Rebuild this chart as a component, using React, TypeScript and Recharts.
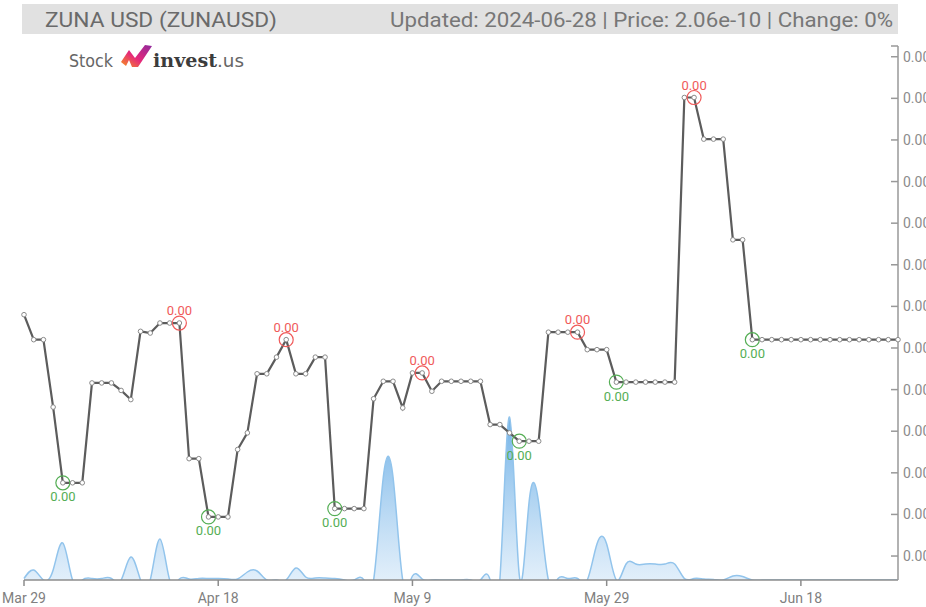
import React from 'react';
import { ComposedChart, Line, Area, XAxis, YAxis } from 'recharts';

// one point per trading day (May 1 missing in the source feed)
const dates = [
  '03-29', '03-30', '03-31',
  '04-01', '04-02', '04-03', '04-04', '04-05', '04-06', '04-07', '04-08', '04-09', '04-10',
  '04-11', '04-12', '04-13', '04-14', '04-15', '04-16', '04-17', '04-18', '04-19', '04-20',
  '04-21', '04-22', '04-23', '04-24', '04-25', '04-26', '04-27', '04-28', '04-29', '04-30',
  '05-02', '05-03', '05-04', '05-05', '05-06', '05-07', '05-08', '05-09', '05-10', '05-11',
  '05-12', '05-13', '05-14', '05-15', '05-16', '05-17', '05-18', '05-19', '05-20', '05-21',
  '05-22', '05-23', '05-24', '05-25', '05-26', '05-27', '05-28', '05-29', '05-30', '05-31',
  '06-01', '06-02', '06-03', '06-04', '06-05', '06-06', '06-07', '06-08', '06-09', '06-10',
  '06-11', '06-12', '06-13', '06-14', '06-15', '06-16', '06-17', '06-18', '06-19', '06-20',
  '06-21', '06-22', '06-23', '06-24', '06-25', '06-26', '06-27', '06-28',
];

// close price, in units of 1e-10 USD
const priceE10 = [
  2.090, 2.060, 2.060, 1.979, 1.888, 1.888, 1.888, 2.008, 2.008, 2.008,
  1.999, 1.988, 2.070, 2.068, 2.080, 2.080, 2.080, 1.917, 1.917, 1.847,
  1.847, 1.847, 1.928, 1.948, 2.019, 2.019, 2.039, 2.060, 2.019, 2.019,
  2.039, 2.039, 1.857, 1.857, 1.857, 1.857, 1.989, 2.010, 2.010, 1.978,
  2.020, 2.020, 1.998, 2.010, 2.010, 2.010, 2.010, 2.010, 1.958, 1.958,
  1.948, 1.938, 1.938, 1.938, 2.069, 2.069, 2.069, 2.069, 2.048, 2.048,
  2.048, 2.009, 2.009, 2.009, 2.009, 2.009, 2.009, 2.009, 2.351, 2.351,
  2.301, 2.301, 2.301, 2.180, 2.180, 2.060, 2.060, 2.060, 2.060, 2.060,
  2.060, 2.060, 2.060, 2.060, 2.060, 2.060, 2.060, 2.060, 2.060, 2.060,
  2.060,
];

// daily volume (relative units)
const volume = [
  0.15, 1.0, 0.0, 1.0, 3.7, 0.0, 0.0, 0.15, 0.15, 0.15,
  0.0, 2.3, 0.0, 0.0, 4.1, 0.0, 0.1, 0.1, 0.15, 0.15,
  0.15, 0.1, 0.1, 0.8, 0.9, 0.0, 0.0, 0.0, 1.2, 0.3,
  0.2, 0.2, 0.15, 0.0, 0.0, 0.0, 0.0, 10.3, 10.3, 0.0,
  0.4, 0.1, 0.0, 0.0, 0.0, 0.0, 0.0, 0.0, 0.0, 0.0,
  16.3, 0.5, 7.7, 7.7, 0.0, 0.15, 0.15, 0.15, 0.0, 3.6,
  3.6, 0.0, 1.6, 1.6, 1.6, 1.6, 1.6, 1.6, 0.15, 0.15,
  0.1, 0.05, 0.0, 0.4, 0.35, 0.0, 0.0, 0.0, 0.0, 0.0,
  0.0, 0.0, 0.0, 0.0, 0.0, 0.0, 0.0, 0.0, 0.0, 0.0,
  0.0,
];

const xTicks = [0, 20, 40, 60, 80];
const xTickLabels = ['Mar 29', 'Apr 18', 'May 9', 'May 29', 'Jun 18'];
const yTicks = [1.8, 1.85, 1.9, 1.95, 2.0, 2.05, 2.1, 2.15, 2.2, 2.25, 2.3, 2.35, 2.4];

// local lows / highs that get a ring and a label
const lowIdx = [4, 19, 32, 51, 61, 75];
const highIdx = [16, 27, 41, 57, 69];

const data = dates.map((d, i) => ({ i, date: d, price: priceE10[i], vol: volume[i] }));

const RED = '#f05a5a';
const GREEN = '#55ae55';

const renderDot = (props: any) => {
  const { cx, cy, index } = props;
  const lo = lowIdx.includes(index);
  const hi = highIdx.includes(index);
  return (
    <g key={`dot-${index}`}>
      {lo && <circle cx={cx} cy={cy} r={7} fill="none" stroke={GREEN} strokeWidth={1.2} />}
      {hi && <circle cx={cx} cy={cy} r={7} fill="none" stroke={RED} strokeWidth={1.2} />}
      <circle cx={cx} cy={cy} r={2.3} fill="#fff" stroke="#8a8a8a" strokeWidth={1} />
      {lo && (
        <text x={cx} y={cy + 18.5} textAnchor="middle" fontSize={13} fill={GREEN}>
          0.00
        </text>
      )}
      {hi && (
        <text x={cx} y={cy - 8} textAnchor="middle" fontSize={13} fill={RED}>
          0.00
        </text>
      )}
    </g>
  );
};

function Header() {
  return (
    <svg width={926} height={80} style={{ position: 'absolute', left: 0, top: 0, pointerEvents: 'none' }}>
      <defs>
        <linearGradient id="logoGrad" x1="0" y1="1" x2="1" y2="0">
          <stop offset="0%" stopColor="#f7941d" />
          <stop offset="45%" stopColor="#e5287a" />
          <stop offset="100%" stopColor="#8e2a9e" />
        </linearGradient>
      </defs>
      <rect x={22} y={4} width={876} height={30} fill="#e1e1e1" />
      <text x={45} y={27} fontSize={20} fill="#6a6a6a" textLength={232} lengthAdjust="spacingAndGlyphs">
        ZUNA USD (ZUNAUSD)
      </text>
      <text x={390} y={27} fontSize={20} fill="#777" textLength={503} lengthAdjust="spacingAndGlyphs">
        Updated: 2024-06-28 | Price: 2.06e-10 | Change: 0%
      </text>
      <line x1={891} y1={46} x2={898} y2={46} stroke="#999" strokeWidth={1.5} />

      <text x={69} y={67} fontSize={18} fill="#666" fontFamily="DejaVu Sans" textLength={44} lengthAdjust="spacingAndGlyphs">
        Stock
      </text>
      <path d="M121,62 L129,50 L135,58 L145,45 L152,46 L138,67 L132,67 L129,60 L126,66 Z" fill="url(#logoGrad)" />
      <text x={153} y={67} fontSize={19} fontWeight="bold" fill="#3c3c3c" fontFamily="DejaVu Serif" textLength={64} lengthAdjust="spacingAndGlyphs">
        invest
      </text>
      <text x={217} y={67} fontSize={18} fill="#666" fontFamily="DejaVu Sans" textLength={27} lengthAdjust="spacingAndGlyphs">
        .us
      </text>
    </svg>
  );
}

export default function App() {
  return (
    <div
      style={{
        position: 'absolute',
        left: 0,
        top: 0,
        width: 926,
        height: 607,
        background: '#fff',
        fontFamily: 'Roboto, sans-serif',
        overflow: 'hidden',
      }}
    >
      <ComposedChart width={926} height={607} data={data} margin={{ top: 46, right: 0, bottom: 0, left: 24 }}>
        <defs>
          <linearGradient id="volGrad" x1="0" y1="0" x2="0" y2="1">
            <stop offset="0%" stopColor="#6aaee6" stopOpacity={0.95} />
            <stop offset="100%" stopColor="#e6f1fb" stopOpacity={0.7} />
          </linearGradient>
        </defs>
        <XAxis
          dataKey="i"
          type="number"
          domain={[0, 90]}
          ticks={xTicks}
          tickFormatter={(v: number) => xTickLabels[xTicks.indexOf(v)] ?? ''}
          height={27}
          tickSize={6}
          tickMargin={7}
          tick={{ fontSize: 14, fill: '#808080' }}
          axisLine={{ stroke: '#8c8c8c', strokeWidth: 1.5 }}
          tickLine={{ stroke: '#8c8c8c', strokeWidth: 1.5 }}
          interval={0}
        />
        <YAxis
          yAxisId="p"
          orientation="right"
          width={28}
          domain={[1.7712, 2.4129]}
          ticks={yTicks}
          tickFormatter={() => '0.00'}
          tickSize={-7}
          tickMargin={12}
          tick={{ fontSize: 14, fill: '#8c8c8c' }}
          axisLine={{ stroke: '#999', strokeWidth: 1.5 }}
          tickLine={{ stroke: '#999', strokeWidth: 1.5 }}
          interval={0}
          allowDataOverflow
        />
        <YAxis yAxisId="v" hide domain={[0, 53.4]} allowDataOverflow />
        <Area
          yAxisId="v"
          type="natural"
          dataKey="vol"
          stroke="#92c4ec"
          strokeWidth={1.5}
          fill="url(#volGrad)"
          fillOpacity={1}
          isAnimationActive={false}
          dot={false}
          activeDot={false}
        />
        <Line
          yAxisId="p"
          type="linear"
          dataKey="price"
          stroke="#5c5c5c"
          strokeWidth={2.2}
          dot={renderDot}
          activeDot={false}
          isAnimationActive={false}
        />
      </ComposedChart>
      <Header />
    </div>
  );
}
